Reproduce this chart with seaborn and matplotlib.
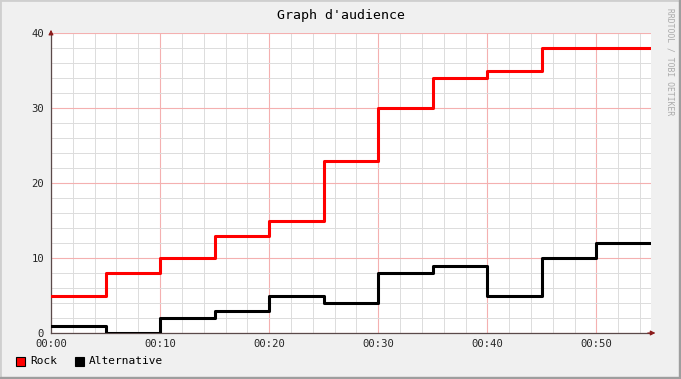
import numpy as np
import pandas as pd
import seaborn as sns
import matplotlib.pyplot as plt
from matplotlib.patches import Rectangle
from matplotlib.ticker import MultipleLocator, FuncFormatter

sns.set_style("white")
plt.rcParams['font.family'] = ['DejaVu Sans Mono']

# step data, one value per 5 minutes (last value held to 00:55)
minutes = [0, 5, 10, 15, 20, 25, 30, 35, 40, 45, 50, 55]
rock = [5, 8, 10, 13, 15, 23, 30, 34, 35, 38, 38, 38]
alternative = [1, 0, 2, 3, 5, 4, 8, 9, 5, 10, 12, 12]
series_names = ["Rock", "Alternative"]
series_colors = ["#FF0000", "#000000"]

df = pd.DataFrame({"minute": minutes * 2,
                   "value": rock + alternative,
                   "series": ["Rock"] * len(minutes) + ["Alternative"] * len(minutes)})

fig = plt.figure(figsize=(6.81, 3.79), dpi=100, facecolor="#F0F0F0")
# 3d-ish frame
fig.patches.append(Rectangle((0, 0), 1, 1, transform=fig.transFigure, fill=False,
                             edgecolor="#CFCFCF", linewidth=2))
fig.patches.append(Rectangle((0, 0), 1, 0.004, transform=fig.transFigure,
                             color="#9E9E9E"))
fig.patches.append(Rectangle((0.997, 0), 0.003, 1, transform=fig.transFigure,
                             color="#9E9E9E"))

W, H = 681, 379
ax = fig.add_axes([51 / W, 1 - 333 / H, 600 / W, 300 / H])
ax.set_facecolor("white")

sns.lineplot(data=df, x="minute", y="value", hue="series", hue_order=series_names,
             palette=series_colors, drawstyle="steps-post", linewidth=2.2,
             legend=False, ax=ax, zorder=3)

ax.set_xlim(0, 55)
ax.set_ylim(0, 40)
ax.xaxis.set_major_locator(MultipleLocator(10))
ax.xaxis.set_minor_locator(MultipleLocator(2))
ax.yaxis.set_major_locator(MultipleLocator(10))
ax.yaxis.set_minor_locator(MultipleLocator(2))
ax.xaxis.set_major_formatter(FuncFormatter(lambda v, p: "00:%02d" % int(v)))
ax.grid(which="minor", color="#DCDCDC", linewidth=0.7)
ax.grid(which="major", color="#F4B0B0", linewidth=0.8)
ax.set_axisbelow(True)

for s in ["top", "right"]:
    ax.spines[s].set_visible(False)
for s in ["left", "bottom"]:
    ax.spines[s].set_color("#5A4A4A")
    ax.spines[s].set_linewidth(0.9)

ax.tick_params(axis="both", which="major", length=2, color="#5A4A4A",
               labelsize=7.6)
ax.tick_params(axis="x", which="major", pad=2)
ax.tick_params(axis="y", which="major", pad=3)
ax.tick_params(axis="both", which="minor", length=0)
ax.set_xlabel("")
ax.set_ylabel("")

# axis arrows
ax.annotate("", xy=(1.012, 0), xytext=(0.99, 0), xycoords="axes fraction",
            arrowprops=dict(arrowstyle="-|>", color="#8B1A1A", lw=0.8,
                            mutation_scale=7), annotation_clip=False)
ax.annotate("", xy=(0, 1.02), xytext=(0, 0.99), xycoords="axes fraction",
            arrowprops=dict(arrowstyle="-|>", color="#8B1A1A", lw=0.8,
                            mutation_scale=7), annotation_clip=False)

fig.text(341 / W, 1 - 16 / H, "Graph d'audience", ha="center", va="center",
         fontsize=9.5, color="#000000")
fig.text(670 / W, 1 - 62 / H, "RRDTOOL / TOBI OETIKER", ha="center", va="center",
         rotation=270, fontsize=5.8, color="#AAAAAA")

# legend
legend_x = [16, 75]
for name, col, lx in zip(series_names, series_colors, legend_x):
    fig.patches.append(Rectangle((lx / W, 1 - 366 / H), 9 / W, 9 / H,
                                 transform=fig.transFigure, facecolor=col,
                                 edgecolor="#000000", linewidth=0.8))
    fig.text((lx + 14) / W, 1 - 361 / H, name, ha="left", va="center",
             fontsize=8, color="#000000")

fig.savefig("out.png", dpi=100, facecolor=fig.get_facecolor())
